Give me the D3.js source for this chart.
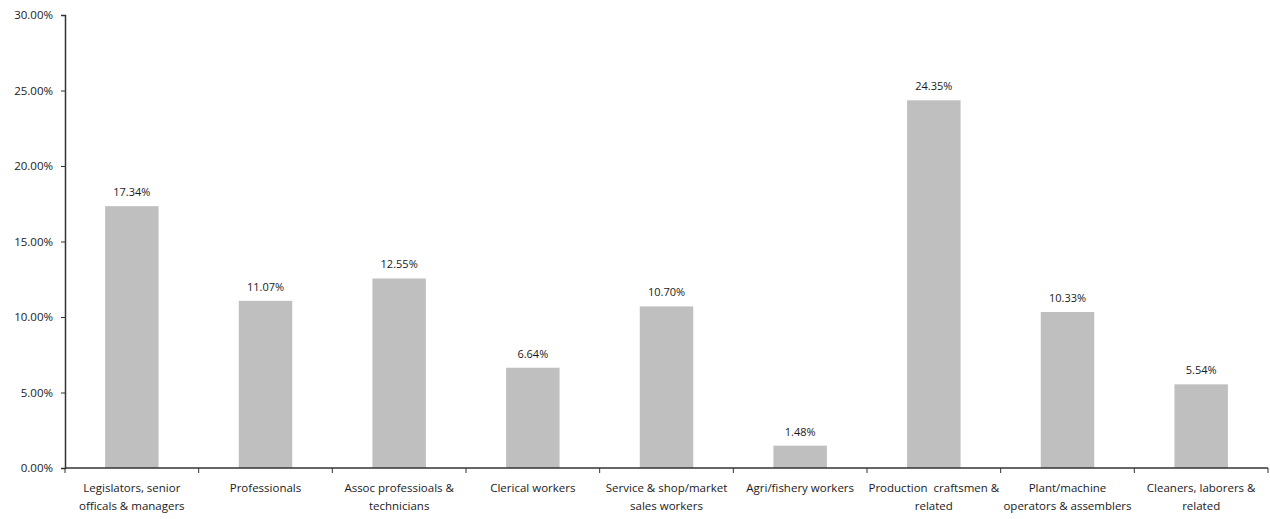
<!DOCTYPE html>
<html>
<head>
<meta charset="utf-8">
<script src="https://cdn.jsdelivr.net/npm/d3@7"></script>
<style>
  html, body { margin: 0; padding: 0; background: #fff; }
  svg text { font-family: "Open Sans", "Liberation Sans", sans-serif; fill: #1a1a1a; }
</style>
</head>
<body>
<svg id="chart" width="1270" height="519"></svg>
<script>
// Share of employment by occupation group
const categories = [
  ["Legislators, senior", "officals & managers"],
  ["Professionals"],
  ["Assoc professioals &", "technicians"],
  ["Clerical workers"],
  ["Service & shop/market", "sales workers"],
  ["Agri/fishery workers"],
  ["Production  craftsmen &", "related"],
  ["Plant/machine", "operators & assemblers"],
  ["Cleaners, laborers &", "related"]
];
const values = [17.34, 11.07, 12.55, 6.64, 10.70, 1.48, 24.35, 10.33, 5.54];
const yTicks = [0, 5, 10, 15, 20, 25, 30];

const svg = d3.select("#chart");
const plotLeft = 65, plotRight = 1268, plotTop = 15, plotBottom = 468;

const keys = categories.map((c, i) => i);
const x = d3.scaleBand().domain(keys).range([plotLeft, plotRight]).paddingInner(0.6).paddingOuter(0.3);
const xEdges = d3.scaleBand().domain(keys).range([plotLeft, plotRight]).padding(0);
const y = d3.scaleLinear().domain([0, 30]).range([plotBottom, plotTop]);

// bars
svg.append("g").selectAll("rect").data(values).join("rect")
  .attr("x", (d, i) => x(i))
  .attr("width", x.bandwidth())
  .attr("y", d => y(d))
  .attr("height", d => y(0) - y(d))
  .attr("fill", "#bfbfbf");

// value labels
svg.append("g").selectAll("text").data(values).join("text")
  .attr("x", (d, i) => x(i) + x.bandwidth() / 2)
  .attr("y", d => y(d) - 10)
  .attr("text-anchor", "middle")
  .style("font-size", "11px")
  .text(d => d.toFixed(2) + "%");

// y axis
const yAxis = svg.append("g").attr("transform", `translate(${plotLeft},0)`)
  .call(d3.axisLeft(y).tickValues(yTicks).tickSize(4).tickPadding(8)
    .tickFormat(d => d.toFixed(2) + "%"));
yAxis.select(".domain").attr("stroke", "#333").attr("stroke-width", 1.5);
yAxis.selectAll(".tick line").attr("stroke", "#333");
yAxis.selectAll(".tick text").style("font-size", "11.5px").attr("fill", "#1a1a1a");

// x axis line with ticks at band edges
const xg = svg.append("g");
xg.append("line").attr("x1", plotLeft).attr("x2", plotRight).attr("y1", plotBottom).attr("y2", plotBottom)
  .attr("stroke", "#333").attr("stroke-width", 1.5);
xg.selectAll("line.tk").data(keys.concat([keys.length])).join("line").attr("class", "tk")
  .attr("x1", i => i < keys.length ? xEdges(i) : plotRight)
  .attr("x2", i => i < keys.length ? xEdges(i) : plotRight)
  .attr("y1", plotBottom).attr("y2", plotBottom + 5)
  .attr("stroke", "#333");

// category labels
const lab = svg.append("g").selectAll("text").data(categories).join("text")
  .attr("x", (d, i) => xEdges(i) + xEdges.bandwidth() / 2)
  .attr("y", 492)
  .attr("text-anchor", "middle")
  .style("font-size", "11.5px");
lab.selectAll("tspan").data(d => d).join("tspan")
  .attr("x", function () { return this.parentNode.getAttribute("x"); })
  .attr("dy", (d, j) => j === 0 ? 0 : 18)
  .style("white-space", "pre")
  .text(d => d);
</script>
</body>
</html>
